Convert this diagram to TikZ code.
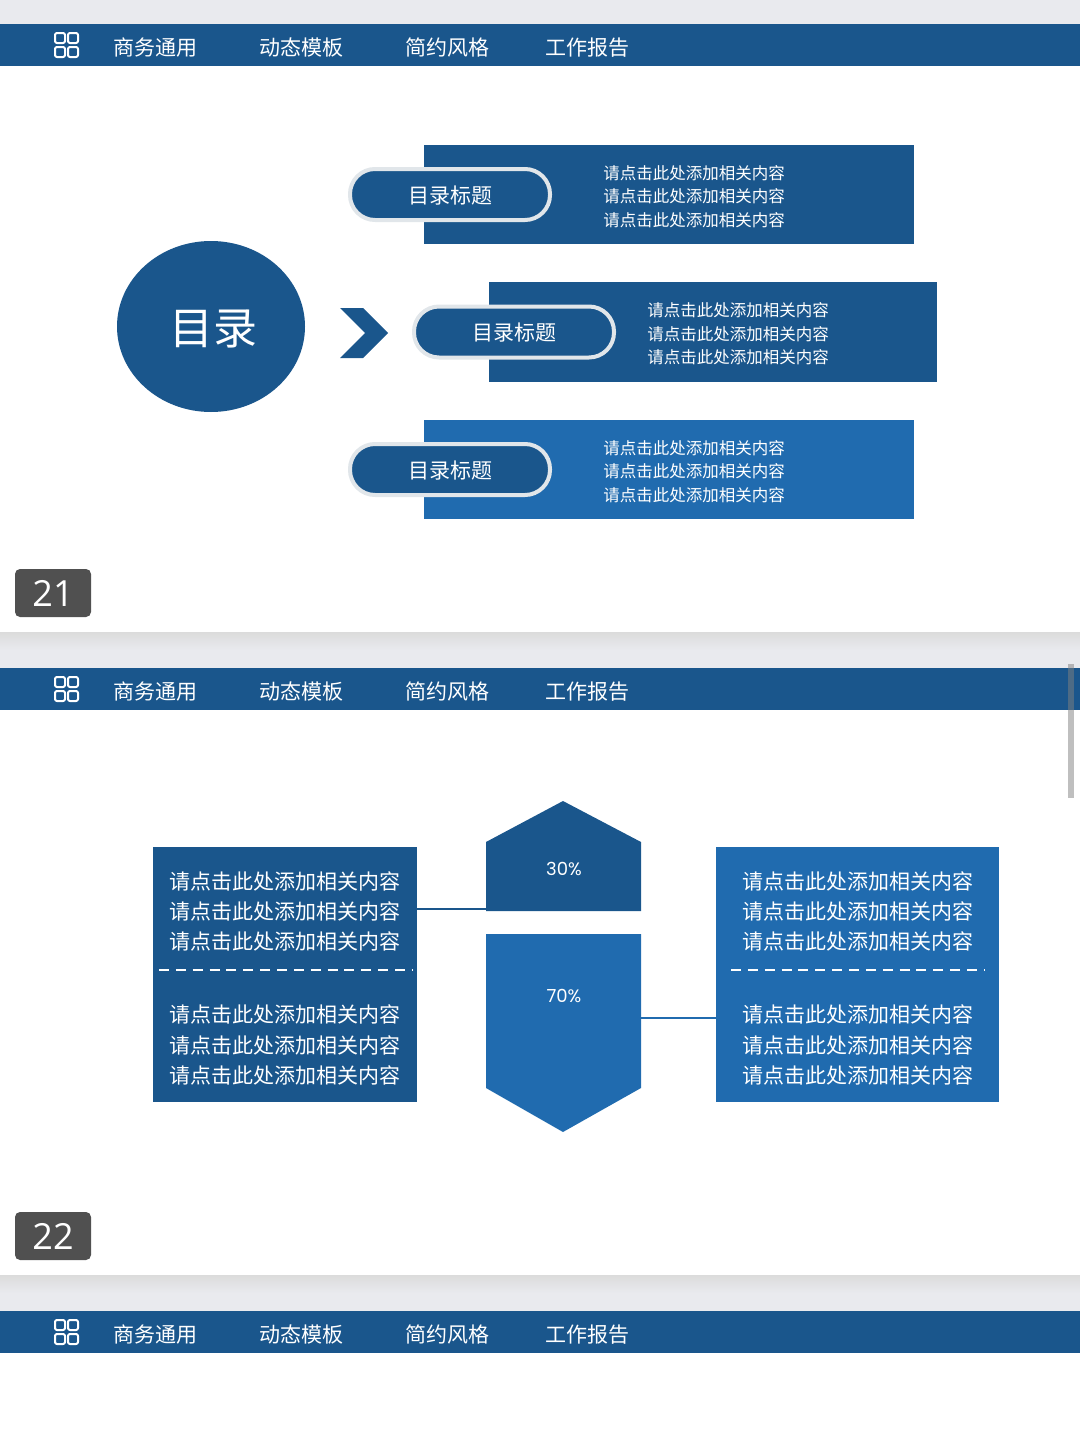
\documentclass[tikz,border=0pt]{standalone}
\usepackage{fontspec}
\usetikzlibrary{shapes.geometric}
\setmainfont{Noto Sans CJK SC}
\newfontfamily\pctfont{Poppins}
\newfontfamily\numfont{Open Sans}
\definecolor{navy}{HTML}{1A568C}
\definecolor{azure}{HTML}{206BAF}
\definecolor{band}{HTML}{E9EAEE}
\definecolor{tagbg}{HTML}{505050}
\tikzset{
	pill/.style={draw=#1, fill=navy, line width=2pt, rounded corners=12.5pt, minimum width=100pt, minimum height=25.5pt, inner sep=0pt, text=white, text height=8.6pt, text depth=0pt, font=\fontsize{10.5}{12}\selectfont},
	small/.style={text=white, align=left, anchor=west, inner sep=0pt, font=\fontsize{8.25}{11.8}\selectfont},
	big/.style={text=white, align=left, inner sep=0pt, font=\fontsize{10.5}{15.1}\selectfont},
	pct/.style={text=white, inner sep=0pt, font=\pctfont\fontsize{9}{12}\selectfont},
	tab/.style={text=white, anchor=west, inner sep=0pt, font=\fontsize{10.5}{12}\selectfont},
	pagetag/.style={fill=tagbg, rounded corners=2.5pt, minimum width=38pt, minimum height=24pt, inner sep=0pt, text=white, font=\numfont\fontsize{18}{22}\selectfont},
	panel/.style={minimum height=127.5pt, inner sep=0pt, outer sep=0pt}
}
\begin{document}
\begin{tikzpicture}[x=.5pt, y=-.5pt, line join=round]
	\useasboundingbox (0,0) rectangle (1080,1440);
	% gray bands between the slides
	\fill[band] (0,0) rectangle (1080,24);
	\shade[top color=black!14, bottom color=band] (0,632) rectangle (1080,650);
	\fill[band] (0,650) rectangle (1080,668);
	\shade[top color=black!14, bottom color=band] (0,1275) rectangle (1080,1293);
	\fill[band] (0,1293) rectangle (1080,1311);
	% header bars
	\foreach \y in {24,668,1311}{
		\fill[navy] (0,\y) rectangle (1080,\y+42);
		\draw[white, line width=1pt, rounded corners=1pt] (55,\y+9) rectangle (65,\y+19) (68,\y+9) rectangle (78,\y+19)
		(55,\y+23) rectangle (65,\y+33) (68,\y+23) rectangle (78,\y+33);
		\foreach \x/\t in {113/商务通用,259/动态模板,405/简约风格,545/工作报告}
		\node[tab] (tab\y-\x) at (\x,\y+23.5) {\t};
	}
	% slide 21
	\node[ellipse, fill=navy, minimum width=94pt, minimum height=85.5pt, inner sep=0pt] (toc) at (211,326.5) {};
	\node[text=white, inner sep=0pt, font=\fontsize{22}{24}\selectfont] (toctext) at (213,329) {目录};
	\fill[navy] (340,308)--(363,308)--(388,333)--(363,358)--(340,358)--(365,333)--cycle;
	\foreach \n/\xa/\xb/\ya/\yb/\xp/\xt/\c in {a/424/914/145/244/450/603/navy,b/489/937/282/382/514/647/navy,c/424/914/420/519/450/603/azure}{
		\fill[\c] (\xa,\ya) rectangle (\xb,\yb);
		\node[pill=black!5!white!92!navy] (pill\n) at (\xp,{(\ya+\yb)/2}) {目录标题};
		\node[small] (text\n) at (\xt,{(\ya+\yb)/2+2}) {请点击此处添加相关内容\\请点击此处添加相关内容\\请点击此处添加相关内容};
	}
	% slide 22
	\node[panel, fill=navy, minimum width=132pt, anchor=north west] (boxL) at (153,847) {};
	\node[panel, fill=azure, minimum width=141.5pt, anchor=north west] (boxR) at (716,847) {};
	\foreach \b/\x/\xa/\xb in {L/285/159/412,R/858/731/984}{
		\node[big] (up\b) at (\x,911.5) {请点击此处添加相关内容\\请点击此处添加相关内容\\请点击此处添加相关内容};
		\node[big] (down\b) at (\x,1045) {请点击此处添加相关内容\\请点击此处添加相关内容\\请点击此处添加相关内容};
		\draw[white, line width=1pt, dash pattern=on 5pt off 3.43pt] (\xa,970)--(\xb,970);
	}
	\fill[navy] (563,801)--(641,842)--(641,911)--(486,911)--(486,842)--cycle;
	\fill[azure] (486,934)--(641,934)--(641,1088)--(563,1132)--(486,1088)--cycle;
	\node[pct] (low) at (564,869) {30\%};
	\node[pct] (high) at (564,996) {70\%};
	\coordinate (linkL) at (486,909);
	\coordinate (linkR) at (641,1018);
	\draw[navy, line width=1pt] (boxL.east |- linkL)--(linkL);
	\draw[azure, line width=1pt] (linkR)--(boxR.west |- linkR);
	% page tags and scroll bar
	\node[pagetag] (page21) at (53,593) {21};
	\node[pagetag] (page22) at (53,1236) {22};
	\fill[black!50, opacity=.5] (1068,664) rectangle (1074,798);
\end{tikzpicture}
\end{document}
